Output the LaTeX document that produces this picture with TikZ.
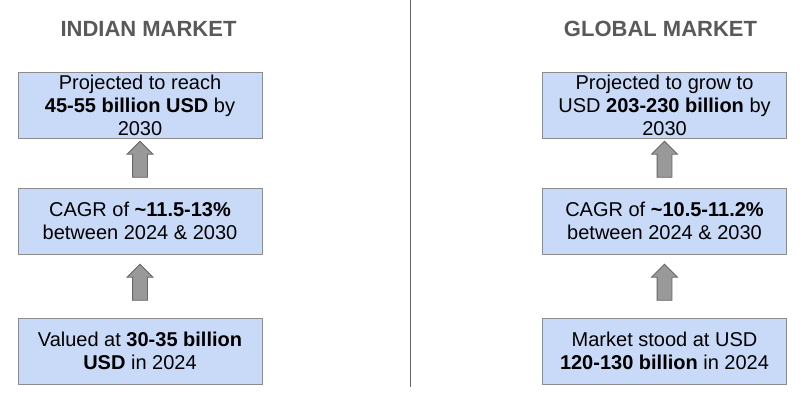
\documentclass[tikz,border=0pt]{standalone}
\usepackage{fontspec}
\setmainfont{Liberation Sans}
\usetikzlibrary{shapes.arrows,positioning,calc}
\definecolor{boxblue}{HTML}{C9DAF8}
\definecolor{boxline}{HTML}{8C8C8C}
\definecolor{titlegray}{HTML}{595959}
\tikzset{market box/.style={draw=boxline,fill=boxblue,line width=1pt,
                            minimum width=244pt,minimum height=66pt,
                            inner sep=0pt,align=center,
                            font=\fontsize{20}{23}\selectfont},
         market title/.style={text=titlegray,font=\fontsize{22}{26}\selectfont\bfseries},
         up arrow/.style={single arrow,draw=black!60,fill=black!40,line width=0.8pt,
                          shape border rotate=90,inner sep=7pt,
                          minimum height=36pt,
                          single arrow head extend=5.5pt}}

\begin{document}
\begin{tikzpicture}[x=1pt,y=-1pt]
\useasboundingbox (0,0) rectangle (806,394);

\node[market title] (IT) at (148.5,29) {INDIAN MARKET};
\node[market title] (GT) at (660.5,29) {GLOBAL MARKET};

\node[market box] (I1) at (140,105) {Projected to reach\\ \textbf{45-55 billion USD} by\\ 2030};
\node[market box,below=49pt of I1] (I2) {CAGR of \textbf{\textasciitilde11.5-13\%}\\ between 2024 \& 2030};
\node[market box,below=63pt of I2] (I3) {Valued at \textbf{30-35 billion}\\ \textbf{USD} in 2024};

\node[market box] (G1) at (664.5,105) {Projected to grow to\\ USD \textbf{203-230 billion} by\\ 2030};
\node[market box,below=49pt of G1] (G2) {CAGR of \textbf{\textasciitilde10.5-11.2\%}\\ between 2024 \& 2030};
\node[market box,below=63pt of G2] (G3) {Market stood at USD\\ \textbf{120-130 billion} in 2024};

% block arrows between the boxes
\node[up arrow] (IA1) at ($(I2.north)!0.5!(I1.south)$) {};
\node[up arrow] (IA2) at ($(I3.north)!0.5!(I2.south)$) {};
\node[up arrow] (GA1) at ($(G2.north)!0.5!(G1.south)$) {};
\node[up arrow] (GA2) at ($(G3.north)!0.5!(G2.south)$) {};

\coordinate (S1) at (410,0);
\coordinate (S2) at (410,387);
\draw[black!60,line width=1pt] (S1) -- (S2);

\end{tikzpicture}
\end{document}
